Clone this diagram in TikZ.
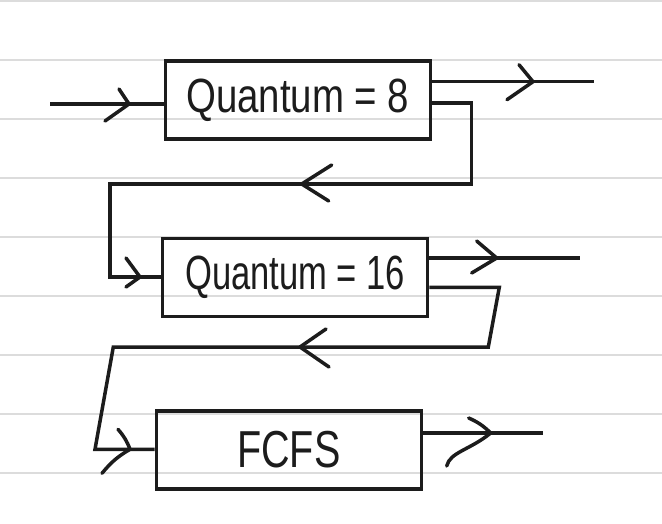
\documentclass[tikz,border=0pt]{standalone}
\usepackage{fontspec}
\usepackage{graphicx}
\setmainfont{Liberation Sans}
\definecolor{ruling}{RGB}{220,220,220}
\definecolor{ink}{RGB}{28,28,28}
\tikzset{
  ruled/.style={draw=ruling, line width=2pt},
  box/.style={draw=ink, line width=3.5pt, minimum width=265pt, minimum height=78pt, inner sep=0pt, anchor=center, text=ink},
  conn/.style={draw=ink, line width=3.5pt, line join=miter},
  chev/.style={draw=ink, line width=3.5pt, line cap=round, line join=round}
}
\begin{document}
\begin{tikzpicture}[x=1pt,y=-1pt]
\useasboundingbox (0,0) rectangle (662,524);
\fill[white] (0,0) rectangle (662,524);
% ruled paper
\foreach \yy in {1,60,119,178,237,296,355,414,473}
  \draw[ruled] (0,\yy) -- (662,\yy);
% boxes
\node[box] (b1) at (297.75,100.25) {\scalebox{0.8}[1]{\fontsize{48}{56}\selectfont Quantum = 8}};
\node[box] (b2) at (295.2,277.5) {\scalebox{0.72}[1]{\fontsize{48}{56}\selectfont Quantum = 16}};
\node[box] (b3) at (288.9,450) {\scalebox{0.76}[1]{\fontsize{52}{60}\selectfont FCFS}};
% free ends
\coordinate (in1) at (50,104);
\coordinate (out1) at (594,81.7);
\coordinate (out2) at (580,258);
\coordinate (out3) at (543.3,433);
% connectors
\draw[conn] (in1) -- (in1 -| b1.west);
\draw[conn] (out1 -| b1.east) -- (out1);
\draw[conn] (b1.east |- 0,103) -- (471.7,103) -- (471.7,184) -- (110,184) -- (110,277) -- (b2.west |- 0,277);
\draw[conn] (out2 -| b2.east) -- (out2);
\draw[conn] (b2.east |- 0,287.3) -- (499.3,287.3) -- (488.3,347) -- (113.3,347) -- (95,449.3) -- (b3.west |- 0,449.3);
\draw[conn] (out3 -| b3.east) -- (out3);
% chevrons
\draw[chev] (129,104) ++(-10,-15) -- ++(10,15) -- ++(-24,17);
\draw[chev] (533,81.7) ++(-14,-17) -- ++(14,17) -- ++(-26,18);
\draw[chev] (301.7,184) ++(30,-19) -- ++(-30,19) -- ++(27,17);
\draw[chev] (140,277) ++(-14,-19) -- ++(14,19) -- ++(-14,10);
\draw[chev] (496.7,258) ++(-20,-17) -- ++(20,17) -- ++(-25,15);
\draw[chev] (300,347) ++(26,-18) -- ++(-26,18) -- ++(29,20);
\draw[chev] (130,449.3) ++(-12,-20) to[bend left=10] ++(12,20) to[bend right=10] ++(-28,24);
\draw[chev] (490.7,433) ++(-22,-15) to[bend left=10] ++(22,15) .. controls (470,450) and (450,452) .. ++(-44,33);
\end{tikzpicture}
\end{document}
